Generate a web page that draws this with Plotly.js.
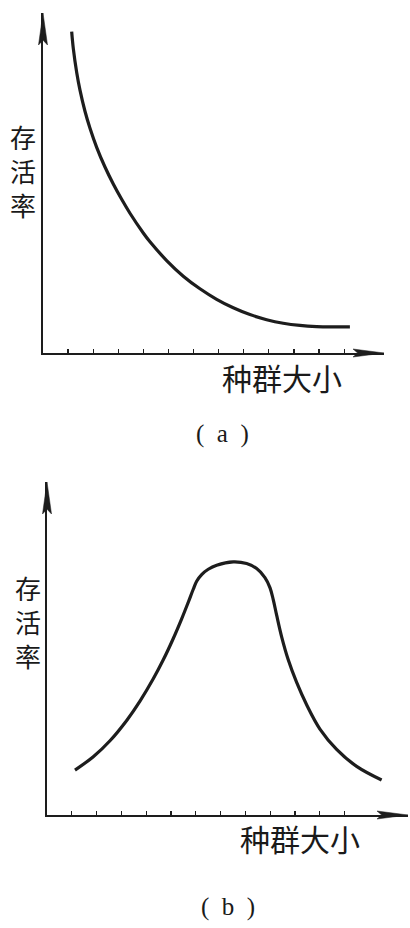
<!DOCTYPE html>
<html>
<head>
<meta charset="utf-8">
<script src="https://cdn.plot.ly/plotly-3.0.1.min.js"></script>
<style>html,body{margin:0;padding:0;background:#fff;}#chart{width:410px;height:928px;}</style>
</head>
<body>
<div id="chart"></div>
<script>
// ---- data ----
const xTickVals = [1,2,3,4,5,6,7,8,9,10,11,12];
const yLabel = "存活率";
const xLabel = "种群大小";
const panelLabels = ["( a )", "( b )"];

// (a) survival rate falls with population size
const curveA_x = [1.143, 1.207, 1.343, 1.474, 1.673, 1.873, 2.139, 2.470, 2.801, 3.135, 3.466, 3.996, 4.263,
                  4.928, 5.590, 6.255, 6.920, 7.582, 8.247, 8.912, 9.574, 10.239, 10.904, 11.566, 12.231];
const curveA_y = [9.45, 8.96, 8.25, 7.73, 7.11, 6.61, 6.05, 5.47, 4.97, 4.52, 4.11, 3.53, 3.27,
                  2.72, 2.26, 1.89, 1.58, 1.33, 1.13, 0.98, 0.874, 0.81, 0.777, 0.767, 0.767];

// (b) survival rate peaks at intermediate population size
const curveB_x = [1.129, 1.867, 2.540, 3.214, 3.750, 4.286, 4.690, 5.093, 5.431, 5.698, 5.899, 6.036, 6.238,
                  6.504, 6.843, 7.512, 8.052, 8.456, 8.790, 8.992, 9.125, 9.262, 9.464, 9.730, 10.069,
                  10.472, 11.008, 11.681, 12.488, 13.496];
const curveB_y = [1.35, 1.75, 2.23, 2.84, 3.42, 4.09, 4.66, 5.30, 5.89, 6.39, 6.78, 7.02, 7.22,
                  7.38, 7.50, 7.60, 7.55, 7.40, 7.13, 6.83, 6.47, 6.00, 5.35, 4.66, 3.98,
                  3.31, 2.58, 1.97, 1.46, 1.05];

// ---- layout helpers ----
const W = 410, H = 928;
const px = x => x / W;
const py = y => 1 - y / H;
const INK = '#1d1d1d';
const cjk = '"Noto Sans CJK SC", "Noto Sans CJK JP", sans-serif';

// panel geometry (pixels)
const panels = [
  {x0: 43, x1: 384, yTop: 13, yBot: 353, xmax: 13.59, ymax: 10,
   ylabX: 23, ylabY: 170, xlabX: 282, xlabY: 377, capX: 222, capY: 434},
  {x0: 47, x1: 408, yTop: 482, yBot: 815, xmax: 14.56, ymax: 10,
   ylabX: 28, ylabY: 621, xlabX: 300, xlabY: 838, capX: 228, capY: 907}
];

function axisX(p, anchor) {
  return {domain: [px(p.x0), px(p.x1)], range: [0, p.xmax], anchor: anchor,
    showline: true, linecolor: INK, linewidth: 1.6, ticks: 'inside', ticklen: 4,
    tickwidth: 1.2, tickcolor: INK, tickvals: xTickVals, showticklabels: false,
    showgrid: false, zeroline: false, fixedrange: true};
}
function axisY(p, anchor) {
  return {domain: [py(p.yBot), py(p.yTop)], range: [0, p.ymax], anchor: anchor,
    showline: true, linecolor: INK, linewidth: 1.6, ticks: '', showticklabels: false,
    showgrid: false, zeroline: false, fixedrange: true};
}

const shapes = [];
const annotations = [];
panels.forEach((p, i) => {
  // y-axis arrowhead (long narrow), paper coordinates
  const yL = 32, yHW = 4.5;
  shapes.push({type: 'path', xref: 'paper', yref: 'paper', layer: 'above',
    path: `M${px(p.x0)},${py(p.yTop)} L${px(p.x0 + yHW)},${py(p.yTop + yL)} L${px(p.x0)},${py(p.yTop + yL * 0.85)} L${px(p.x0 - yHW)},${py(p.yTop + yL)} Z`,
    fillcolor: INK, line: {color: INK, width: 0.5}});
  // x-axis arrowhead
  const xL = 31, xHW = 4;
  shapes.push({type: 'path', xref: 'paper', yref: 'paper', layer: 'above',
    path: `M${px(p.x1)},${py(p.yBot)} L${px(p.x1 - xL)},${py(p.yBot - xHW)} L${px(p.x1 - xL * 0.85)},${py(p.yBot)} L${px(p.x1 - xL)},${py(p.yBot + xHW)} Z`,
    fillcolor: INK, line: {color: INK, width: 0.5}});
  // stacked vertical y label
  annotations.push({xref: 'paper', yref: 'paper', x: px(p.ylabX), y: py(p.ylabY),
    text: Array.from(yLabel).join('<br>'), showarrow: false, xanchor: 'center', yanchor: 'middle',
    font: {family: cjk, size: 26, color: '#1a1a1a'}});
  annotations.push({xref: 'paper', yref: 'paper', x: px(p.xlabX), y: py(p.xlabY),
    text: xLabel, showarrow: false, xanchor: 'center', yanchor: 'middle',
    font: {family: cjk, size: 30, color: '#1a1a1a'}});
  annotations.push({xref: 'paper', yref: 'paper', x: px(p.capX), y: py(p.capY),
    text: panelLabels[i].replace(/ /g, '\u2002'), showarrow: false, xanchor: 'center', yanchor: 'middle',
    font: {family: '"Liberation Serif", serif', size: 25, color: '#1a1a1a'}});
});

const traces = [
  {x: curveA_x, y: curveA_y, xaxis: 'x', yaxis: 'y', mode: 'lines',
   line: {color: INK, width: 3.2, shape: 'spline', smoothing: 1}, hoverinfo: 'skip'},
  {x: curveB_x, y: curveB_y, xaxis: 'x2', yaxis: 'y2', mode: 'lines',
   line: {color: INK, width: 3.2, shape: 'spline', smoothing: 1}, hoverinfo: 'skip'}
];

const layout = {
  width: W, height: H, margin: {l: 0, r: 0, t: 0, b: 0},
  paper_bgcolor: '#ffffff', plot_bgcolor: 'rgba(0,0,0,0)', showlegend: false,
  xaxis: axisX(panels[0], 'y'), yaxis: axisY(panels[0], 'x'),
  xaxis2: axisX(panels[1], 'y2'), yaxis2: axisY(panels[1], 'x2'),
  shapes: shapes, annotations: annotations
};

Plotly.newPlot('chart', traces, layout, {displayModeBar: false, staticPlot: true});
</script>
</body>
</html>
